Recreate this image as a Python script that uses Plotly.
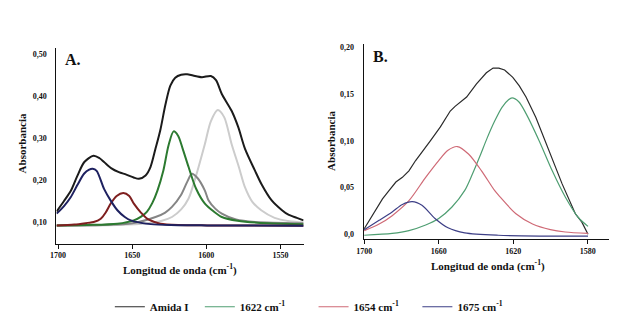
import plotly.graph_objects as go

# ---------------- Panel A data (wavenumber cm-1, absorbance) ----------------
a_amida_x = [1701, 1696, 1691.3, 1687, 1682.3, 1676.1, 1672, 1669, 1664, 1659, 1654, 1649, 1645.5, 1641,
             1637.7, 1634.3, 1631, 1627.6, 1624.3, 1621, 1617, 1613, 1609, 1603, 1597, 1593.5, 1589.6,
             1583, 1578.5, 1574, 1567.3, 1562.8, 1556.1, 1549, 1545, 1539, 1534.5]
a_amida_y = [0.125, 0.150, 0.175, 0.210, 0.243, 0.258, 0.252, 0.243, 0.228, 0.219, 0.213, 0.206, 0.203, 0.211,
             0.231, 0.275, 0.320, 0.380, 0.425, 0.444, 0.451, 0.452, 0.449, 0.445, 0.448, 0.438, 0.405,
             0.365, 0.326, 0.275, 0.223, 0.190, 0.152, 0.128, 0.118, 0.110, 0.104]

a_1675_x = [1701, 1696, 1691.5, 1687, 1682.5, 1679, 1676.7, 1674, 1669, 1664.5, 1660, 1655, 1651, 1644,
            1637.5, 1624, 1600, 1534.5]
a_1675_y = [0.120, 0.138, 0.159, 0.188, 0.215, 0.225, 0.227, 0.222, 0.179, 0.151, 0.128, 0.112, 0.104, 0.098,
            0.095, 0.093, 0.092, 0.091]

a_1654_x = [1701, 1689, 1680, 1676, 1671.2, 1668, 1664.5, 1660.5, 1656, 1652, 1648.9, 1644, 1640, 1635,
            1631, 1619, 1599, 1534.5]
a_1654_y = [0.092, 0.094, 0.098, 0.100, 0.108, 0.122, 0.144, 0.162, 0.169, 0.162, 0.144, 0.122, 0.108, 0.100,
            0.096, 0.093, 0.092, 0.091]

a_1622_x = [1701, 1680, 1660, 1649, 1644, 1640, 1636.5, 1633, 1629, 1625.5, 1622.1, 1619, 1616, 1612, 1607,
            1601, 1595, 1589.6, 1579, 1559, 1534.5]
a_1622_y = [0.092, 0.093, 0.096, 0.104, 0.113, 0.125, 0.145, 0.175, 0.223, 0.283, 0.316, 0.305, 0.275, 0.231,
            0.180, 0.144, 0.125, 0.112, 0.103, 0.097, 0.095]

a_1610_x = [1701, 1670, 1650, 1634.3, 1628, 1623.2, 1617, 1613, 1609.8, 1606, 1601, 1598.6, 1594, 1589.6,
            1580, 1567, 1534.5]
a_1610_y = [0.092, 0.093, 0.097, 0.112, 0.122, 0.136, 0.165, 0.195, 0.215, 0.205, 0.175, 0.152, 0.132, 0.120,
            0.106, 0.100, 0.097]

a_1592_x = [1701, 1660, 1640, 1630, 1623.2, 1617, 1612, 1607, 1601, 1597, 1592.3, 1588, 1583, 1578, 1574,
            1569, 1563, 1554, 1544, 1534.5]
a_1592_y = [0.091, 0.093, 0.097, 0.103, 0.112, 0.130, 0.156, 0.210, 0.286, 0.340, 0.367, 0.350, 0.286, 0.230,
            0.183, 0.148, 0.128, 0.110, 0.102, 0.099]

a_xticks = [1700, 1650, 1600, 1550]
a_yticks = [0.10, 0.20, 0.30, 0.40, 0.50]
a_yticktext = ["0,10", "0,20", "0,30", "0,40", "0,50"]

# ---------------- Panel B data ----------------
b_amida_x = [1700, 1697.2, 1693.7, 1690.2, 1686.6, 1683.0, 1679.5, 1676.0, 1672.4, 1668.9, 1664.5, 1659.1,
             1653.8, 1651.2, 1645.0, 1639.7, 1634.4, 1630.8, 1627.7, 1624.6, 1620.2, 1616.7, 1613.1, 1607.8,
             1600.7, 1593.7, 1586.6, 1583.1, 1579.8]
b_amida_y = [0.006, 0.015, 0.026, 0.038, 0.047, 0.056, 0.061, 0.068, 0.079, 0.088, 0.100, 0.115,
             0.132, 0.137, 0.147, 0.161, 0.173, 0.178, 0.178, 0.176, 0.168, 0.159, 0.147, 0.125,
             0.090, 0.054, 0.022, 0.013, 0.000]

b_1622_x = [1700, 1685, 1676, 1667, 1660, 1653, 1646, 1642, 1638, 1634, 1630, 1626, 1622.5, 1620.6, 1617,
            1613, 1606, 1599, 1592, 1585, 1579.8]
b_1622_y = [-0.001, 0.001, 0.004, 0.010, 0.017, 0.029, 0.047, 0.064, 0.083, 0.103, 0.121, 0.136, 0.144, 0.146,
            0.142, 0.129, 0.100, 0.068, 0.040, 0.018, 0.0085]

b_1654_x = [1700, 1692, 1685, 1676, 1667, 1660, 1655, 1650, 1644, 1637, 1630, 1627, 1618.5, 1609.6, 1600,
            1592, 1579.8]
b_1654_y = [0.004, 0.011, 0.020, 0.036, 0.061, 0.079, 0.090, 0.094, 0.086, 0.068, 0.047, 0.040, 0.022, 0.011,
            0.005, 0.0025, 0.001]

b_1675_x = [1700, 1692, 1685, 1679.5, 1674.2, 1669, 1662, 1655, 1646, 1628, 1579.8]
b_1675_y = [0.005, 0.015, 0.024, 0.032, 0.035, 0.031, 0.017, 0.007, 0.0015, -0.001, -0.002]

b_xticks = [1700, 1660, 1620, 1580]
b_yticks = [0.0, 0.05, 0.10, 0.15, 0.20]
b_yticktext = ["0,0", "0,05", "0,10", "0,15", "0,20"]

W, H = 629, 329
SERIF = "Liberation Serif"


def px(x):
    return x / W


def py(y):
    return 1 - y / H


fig = go.Figure()

# Panel A traces (thick lines)
a_traces = [
    (a_1592_x, a_1592_y, "#cccccc"),
    (a_1610_x, a_1610_y, "#858585"),
    (a_1622_x, a_1622_y, "#2c7a30"),
    (a_1654_x, a_1654_y, "#7e1f1f"),
    (a_1675_x, a_1675_y, "#1e2160"),
    (a_amida_x, a_amida_y, "#1b1b1b"),
]
for xs, ys, col in a_traces:
    fig.add_trace(go.Scatter(x=xs, y=ys, mode="lines", line=dict(color=col, width=2, shape="spline", smoothing=0.8),
                             xaxis="x", yaxis="y", showlegend=False, hoverinfo="skip"))

# Panel B traces (thin lines) -- these also feed the legend
b_traces = [
    (b_amida_x, b_amida_y, "#2b2b2b", "Amida I", "legend", "linear"),
    (b_1622_x, b_1622_y, "#4f9e72", "1622 cm<sup>-1</sup>", "legend2", "spline"),
    (b_1654_x, b_1654_y, "#cf6a76", "1654 cm<sup>-1</sup>", "legend3", "spline"),
    (b_1675_x, b_1675_y, "#3d3f86", "1675 cm<sup>-1</sup>", "legend4", "spline"),
]
for xs, ys, col, name, leg, shp in b_traces:
    fig.add_trace(go.Scatter(x=xs, y=ys, mode="lines", name=name,
                             line=dict(color=col, width=1.2, shape=shp, smoothing=0.8),
                             xaxis="x2", yaxis="y2", legend=leg, showlegend=True, hoverinfo="skip"))

tickfont = dict(family=SERIF, size=8, color="#111", weight="bold")
axis_common = dict(showgrid=False, zeroline=False, showline=True, linecolor="#111", linewidth=1, tickfont=tickfont)

fig.update_layout(
    width=W, height=H, margin=dict(l=0, r=0, t=0, b=0),
    paper_bgcolor="white", plot_bgcolor="white",
    xaxis=dict(domain=[px(50), px(300)], range=[1701.1, 1534.4], tickvals=a_xticks,
               ticks="outside", ticklen=4, tickcolor="#111", anchor="y", **axis_common),
    yaxis=dict(domain=[py(243.3), py(47)], range=[0.0487, 0.515], tickvals=a_yticks, ticktext=a_yticktext,
               ticks="", ticklabelstandoff=7, anchor="x", **axis_common),
    xaxis2=dict(domain=[px(360.7), px(609)], range=[1700.3, 1568.4], tickvals=b_xticks,
                ticks="outside", ticklen=4, tickcolor="#111", anchor="y2", **axis_common),
    yaxis2=dict(domain=[py(239), py(43.3)], range=[-0.0053, 0.2036], tickvals=b_yticks, ticktext=b_yticktext,
                ticks="", ticklabelstandoff=7, anchor="x2", **axis_common),
)

legfont = dict(family=SERIF, size=11, color="#111", weight="bold")
leg_x = [104, 195, 310, 415]
for i, lx in enumerate(leg_x):
    key = "legend" if i == 0 else f"legend{i + 1}"
    fig.update_layout({key: dict(x=px(lx), y=py(306.7), xanchor="left", yanchor="middle", orientation="h",
                                 bgcolor="rgba(0,0,0,0)", font=legfont, borderwidth=0, itemwidth=30)})

title_font = dict(family=SERIF, size=11, color="#111", weight="bold")
annots = [
    dict(text="A.", x=px(57), y=py(48), xanchor="left", yanchor="top",
         font=dict(family=SERIF, size=16, color="#111", weight="bold")),
    dict(text="B.", x=px(368), y=py(45), xanchor="left", yanchor="top",
         font=dict(family=SERIF, size=16, color="#111", weight="bold")),
    dict(text="Longitud de onda (cm<sup>-1</sup>)", x=px(175), y=py(269), xanchor="center", yanchor="middle",
         font=title_font),
    dict(text="Longitud de onda (cm<sup>-1</sup>)", x=px(486), y=py(265), xanchor="center", yanchor="middle",
         font=title_font),
    dict(text="Absorbancia", x=px(15), y=py(143), xanchor="center", yanchor="middle", textangle=-90,
         font=title_font),
    dict(text="Absorbancia", x=px(327), y=py(140), xanchor="center", yanchor="middle", textangle=-90,
         font=title_font),
]
for a in annots:
    fig.add_annotation(xref="paper", yref="paper", showarrow=False, **a)

fig.write_html("out.html", config={"displayModeBar": False},
               post_script="document.body.style.margin='0';document.body.style.overflow='hidden';")
